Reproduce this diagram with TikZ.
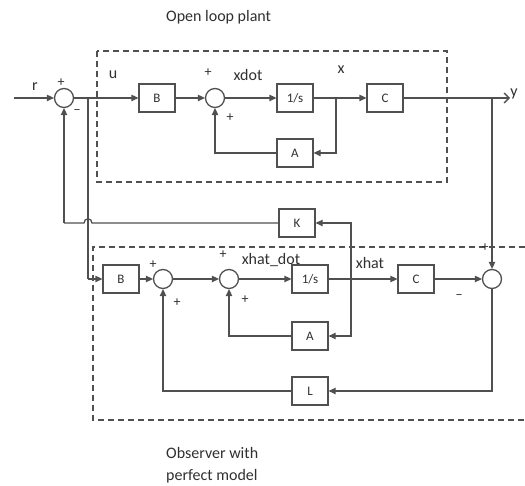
\documentclass[tikz,border=0pt]{standalone}
\usepackage{fontspec}
\setmainfont{Carlito}
\usetikzlibrary{arrows.meta}
\definecolor{ln}{HTML}{505050}
\definecolor{tx}{HTML}{303030}
\begin{document}
\begin{tikzpicture}[x=1pt,y=-1pt,
  wire/.style={draw=ln,line width=1.3pt},
  arr/.style={wire,-{Triangle[length=7pt,width=6.5pt]}},
  blk/.style={draw=ln,line width=1.3pt,fill=white,minimum width=36pt,minimum height=28pt,inner sep=0pt,text=tx,font=\fontsize{13}{14}\selectfont},
  sumnode/.style={draw=ln,line width=1.3pt,circle,minimum size=19pt,inner sep=0pt,fill=white},
  lbl/.style={text=tx,font=\fontsize{16}{18}\selectfont,inner sep=0pt},
  sgn/.style={text=tx,font=\fontsize{14}{15}\selectfont,inner sep=0pt},
  frame/.style={draw=ln,line width=1.3pt,dash pattern=on 6pt off 4pt}]
\useasboundingbox (0,0) rectangle (525,486);
% frames
\draw[frame] (97,51) rectangle (447,182);
\draw[frame] (525,247) -- (93,247) -- (93,420) -- (525,420);
% nodes
\node[sumnode] (s1) at (64,98) {};
\node[blk] (B1) at (157,98) {B};
\node[sumnode] (s2) at (215,98) {};
\node[blk] (I1) at (295,98) {1/s};
\node[blk] (C1) at (385,98) {C};
\node[blk] (A1) at (295,153) {A};
\node[blk] (K) at (297,223) {K};
\node[blk] (B2) at (121,279) {B};
\node[sumnode] (s3) at (163,279) {};
\node[sumnode] (s4) at (229,279) {};
\node[blk] (I2) at (310,279) {1/s};
\node[blk] (C2) at (416,279) {C};
\node[sumnode] (s5) at (492,279) {};
\node[blk] (A2) at (310,336) {A};
\node[blk] (L) at (310,391) {L};
\coordinate (rin) at (14,98);
\coordinate (j1) at (88,98);
\coordinate (j2) at (336,98);
\coordinate (j3) at (492,98);
\coordinate (yout) at (510,98);
\coordinate (j4) at (351,279);
\coordinate (b2in) at (88,279);
\coordinate (kc) at (64,223);
% plant
\draw[arr] (rin) -- (s1);
\draw[wire] (s1) -- (j1);
\draw[arr] (j1) -- (B1);
\draw[arr] (B1) -- (s2);
\draw[arr] (s2) -- (I1);
\draw[wire] (I1) -- (j2);
\draw[arr] (j2) -- (C1);
\draw[arr] (j2) |- (A1);
\draw[arr] (A1) -| (s2);
\draw[wire,-{Straight Barb[length=5pt,width=10pt]}] (C1) -- (yout);
\draw[arr] (j3) -- (s5);
% K feedback
\draw[arr] (j4) |- (K);
\draw[wire] (K.west) -- (92,223) .. controls (92,217.5) and (84,217.5) .. (84,223) -- (kc);
\draw[arr] (kc) -- (s1);
\draw[wire] (j1) -- (b2in);
\draw[arr] (b2in) -- (B2);
% observer
\draw[arr] (B2) -- (s3);
\draw[arr] (s3) -- (s4);
\draw[arr] (s4) -- (I2);
\draw[wire] (I2) -- (j4);
\draw[arr] (j4) -- (C2);
\draw[arr] (C2) -- (s5);
\draw[arr] (j4) |- (A2);
\draw[arr] (A2) -| (s4);
\draw[arr] (s5) |- (L);
\draw[arr] (L) -| (s3);
% labels
\node[lbl,anchor=west] (t1) at (166,17) {Open loop plant};
\node[lbl,anchor=west] (t2) at (166,453) {Observer with};
\node[lbl,anchor=west] (t3) at (166,476) {perfect model};
\node[lbl] (lr) at (35,87) {r};
\node[sgn] (p1) at (61,83) {+};
\node[sgn] (m1) at (77,112) {\textminus};
\node[lbl] (lu) at (113,75) {u};
\node[sgn] (p2) at (208,73) {+};
\node[lbl] (lxd) at (248,75) {xdot};
\node[sgn] (p3) at (230,118) {+};
\node[lbl] (lx) at (341,70) {x};
\node[lbl] (ly) at (514,94) {y};
\node[sgn] (p4) at (153,265) {+};
\node[sgn] (p5) at (177,303) {+};
\node[sgn] (p6) at (223,255) {+};
\node[sgn] (p7) at (245,300) {+};
\node[lbl] (lxhd) at (271,260) {xhat\_dot};
\node[lbl] (lxh) at (370,263) {xhat};
\node[sgn] (m2) at (459,297) {\textminus};
\node[sgn] (p8) at (485,248) {+};
\end{tikzpicture}
\end{document}
